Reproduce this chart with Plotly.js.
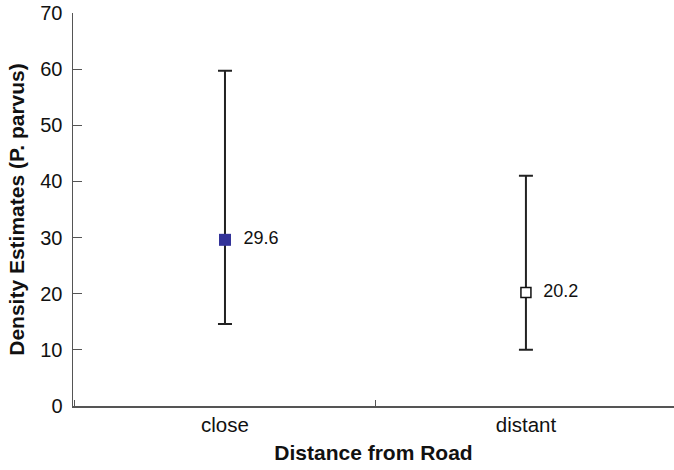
<!DOCTYPE html>
<html><head><meta charset="utf-8">
<script src="https://cdn.plot.ly/plotly-3.0.1.min.js"></script>
<style>html,body{margin:0;padding:0;background:#fff}#chart{width:674px;height:470px}</style>
</head><body><div id="chart"></div>
<script>
const categories = ["close", "distant"];
const estimates = [29.6, 20.2];
const upperCI = [59.7, 41.0];
const lowerCI = [14.6, 10.0];
const labels = ["29.6", "20.2"];

const font = "Liberation Sans, Arial, sans-serif";
const traces = categories.map((c, i) => ({
  type: "scatter",
  mode: "markers+text",
  x: [c],
  y: [estimates[i]],
  text: ["  " + labels[i]],
  textposition: "middle right",
  textfont: {family: font, size: 18, color: "#111"},
  marker: i === 0
    ? {symbol: "square", size: 12, color: "#333399", line: {width: 0}}
    : {symbol: "square", size: 10, color: "#ffffff", line: {width: 1.5, color: "#111"}},
  error_y: {
    type: "data", symmetric: false,
    array: [upperCI[i] - estimates[i]],
    arrayminus: [estimates[i] - lowerCI[i]],
    color: "#222", thickness: 2, width: 7
  },
  showlegend: false,
  cliponaxis: false
}));

const layout = {
  width: 674, height: 470,
  margin: {l: 73, r: 0, t: 13, b: 64},
  paper_bgcolor: "#fff", plot_bgcolor: "#fff",
  font: {family: font, color: "#111"},
  xaxis: {
    type: "category", range: [-0.505, 1.492],
    tickson: "boundaries", ticks: "inside", ticklen: 6, tickcolor: "#555", tickwidth: 1,
    showline: true, linecolor: "#555", linewidth: 1.5, showgrid: false, zeroline: false,
    tickfont: {size: 20.5, color: "#111"}, ticklabelstandoff: 0,
    title: {text: "<b>Distance from Road</b>", font: {size: 21, color: "#111"}, standoff: 10}
  },
  yaxis: {
    range: [0, 70], tickvals: [0,10,20,30,40,50,60,70],
    ticks: "inside", ticklen: 9, tickcolor: "#555", tickwidth: 1,
    showline: true, linecolor: "#555", linewidth: 1.5, showgrid: false, zeroline: false,
    tickfont: {size: 20, color: "#111"}, ticklabelstandoff: 5,
    title: {text: "<b>Density Estimates (P. parvus)</b>", font: {size: 21, color: "#111"}, standoff: 10}
  }
};
Plotly.newPlot("chart", traces, layout, {staticPlot: true, displayModeBar: false});
</script></body></html>
